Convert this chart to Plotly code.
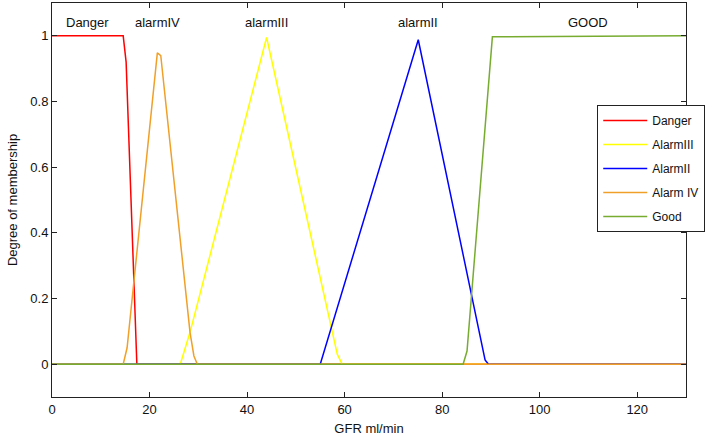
import plotly.graph_objects as go

# Membership functions (GFR ml/min -> degree)
danger_x = [0, 14.6, 15.2, 17.4, 130]
danger_y = [1, 1, 0.92, 0, 0]

alarm3_x = [0, 26.3, 28.3, 44.0, 58.5, 59.5, 130]
alarm3_y = [0, 0, 0.097, 0.995, 0.03, 0, 0]

alarm2_x = [0, 55.0, 75.1, 88.8, 89.5, 130]
alarm2_y = [0, 0, 0.988, 0.013, 0, 0]

alarm4_x = [0, 14.6, 15.4, 21.6, 22.3, 28.3, 29.1, 29.8, 130]
alarm4_y = [0, 0, 0.05, 0.948, 0.94, 0.097, 0.025, 0, 0]

good_x = [0, 84.3, 85.1, 90.3, 130]
good_y = [0, 0, 0.04, 0.997, 1]

series_names = ["Danger", "AlarmIII", "AlarmII", "Alarm IV", "Good"]
series_colors = ["#ff0000", "#ffff00", "#0000ff", "#f0a028", "#77ac30"]

region_labels = ["Danger", "alarmIV", "alarmIII", "alarmII", "GOOD"]
region_label_x = [7.2, 21.7, 43.9, 75.1, 110]
region_label_y = 1.04

x_ticks = [0, 20, 40, 60, 80, 100, 120]
y_ticks = [0, 0.2, 0.4, 0.6, 0.8, 1]
y_tick_text = ["0", "0.2", "0.4", "0.6", "0.8", "1"]

xs = [danger_x, alarm3_x, alarm2_x, alarm4_x, good_x]
ys = [danger_y, alarm3_y, alarm2_y, alarm4_y, good_y]

fig = go.Figure()
for i, (name, col, x, y) in enumerate(zip(series_names, series_colors, xs, ys)):
    fig.add_trace(go.Scatter(x=x, y=y, mode="lines", name=name,
                             line=dict(color=col, width=1.5),
                             legendgroup=f"g{i}"))

for t, lx in zip(region_labels, region_label_x):
    fig.add_annotation(x=lx, y=region_label_y, text=t, showarrow=False,
                       font=dict(size=13, color="#111111"), xanchor="center", yanchor="middle")

font_family = "Liberation Sans, Arial, sans-serif"
fig.update_layout(
    width=709, height=442,
    margin=dict(l=52, r=23, t=3, b=45, autoexpand=False),
    paper_bgcolor="white", plot_bgcolor="white",
    font=dict(family=font_family, size=13, color="#111111"),
    showlegend=True,
    legend=dict(x=0.86, y=0.741, xanchor="left", yanchor="top",
                bgcolor="white", bordercolor="#222222", borderwidth=1,
                font=dict(size=12, color="#111111"), itemwidth=44,
                tracegroupgap=5, traceorder="grouped"),
    xaxis=dict(range=[0, 130], tickvals=x_ticks, showgrid=False, zeroline=False,
               automargin=False,
               showline=True, linecolor="#222222", linewidth=1, mirror="ticks",
               ticks="inside", ticklen=5, tickcolor="#222222",
               title=dict(text="GFR ml/min", font=dict(size=13), standoff=8)),
    yaxis=dict(range=[-0.1, 1.1], tickvals=y_ticks, ticktext=y_tick_text,
               showgrid=False, zeroline=False, automargin=False,
               showline=True, linecolor="#222222", linewidth=1, mirror="ticks",
               ticks="inside", ticklen=5, tickcolor="#222222",
               title=dict(text="Degree of membership", font=dict(size=13), standoff=9)),
)

fig.write_html("out.html",
               config={"displayModeBar": False},
               post_script="document.body.style.margin='0';document.body.style.overflow='hidden';")
